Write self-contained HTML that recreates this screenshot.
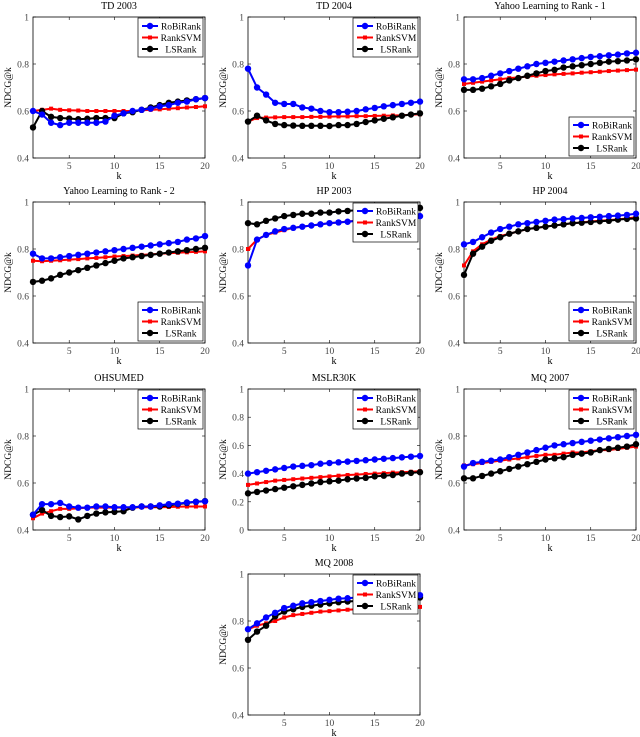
<!DOCTYPE html>
<html><head><meta charset="utf-8"><style>
body{margin:0;background:#fff;}
svg{display:block;font-family:"Liberation Serif",serif;}
</style></head><body>
<svg id="chart" width="640" height="737" viewBox="0 0 640 737"></svg>
<script>
const kValues=[1,2,3,4,5,6,7,8,9,10,11,12,13,14,15,16,17,18,19,20];
const seriesNames=["RoBiRank","RankSVM","LSRank"];
const panelTitles=["TD 2003","TD 2004","Yahoo Learning to Rank - 1","Yahoo Learning to Rank - 2","HP 2003","HP 2004","OHSUMED","MSLR30K","MQ 2007","MQ 2008"];
const td2003Robi=[.60,.585,.55,.54,.55,.55,.55,.55,.555,.58,.59,.60,.605,.61,.62,.625,.635,.64,.65,.655];
const td2003Svm=[.60,.605,.61,.605,.603,.602,.60,.60,.60,.60,.60,.60,.603,.605,.607,.61,.612,.615,.617,.62];
const td2003Ls=[.53,.60,.575,.57,.568,.565,.567,.57,.57,.57,.59,.595,.605,.615,.625,.635,.64,.645,.65,.655];
const td2004Robi=[.78,.70,.67,.635,.63,.63,.615,.61,.60,.595,.595,.597,.60,.607,.613,.62,.625,.63,.635,.64];
const td2004Svm=[.555,.57,.572,.573,.574,.574,.574,.575,.575,.576,.577,.577,.578,.578,.579,.58,.581,.582,.584,.586];
const td2004Ls=[.555,.58,.56,.545,.54,.538,.537,.537,.537,.536,.54,.54,.545,.553,.56,.567,.573,.58,.585,.59];
const yahoo1Robi=[.735,.735,.74,.75,.76,.77,.78,.79,.80,.805,.81,.815,.82,.825,.83,.833,.837,.84,.845,.848];
const yahoo1Svm=[.715,.72,.725,.73,.735,.74,.743,.746,.75,.753,.756,.758,.76,.763,.765,.767,.77,.772,.774,.776];
const yahoo1Ls=[.69,.69,.695,.705,.715,.73,.74,.75,.76,.77,.775,.785,.79,.795,.80,.805,.81,.812,.815,.82];
const yahoo2Robi=[.78,.76,.76,.765,.77,.775,.78,.785,.79,.795,.80,.805,.81,.815,.82,.825,.83,.84,.845,.855];
const yahoo2Svm=[.75,.748,.75,.752,.755,.757,.76,.762,.765,.768,.77,.772,.775,.777,.78,.782,.784,.786,.788,.79];
const yahoo2Ls=[.66,.665,.675,.69,.70,.71,.72,.73,.74,.75,.76,.765,.77,.775,.78,.785,.79,.795,.80,.805];
const hp2003Robi=[.73,.84,.86,.875,.885,.89,.895,.90,.905,.91,.913,.916,.92,.922,.925,.928,.93,.933,.935,.94];
const hp2003Svm=[.80,.84,.86,.87,.88,.89,.895,.90,.905,.91,.913,.917,.92,.923,.926,.93,.932,.935,.937,.94];
const hp2003Ls=[.91,.905,.92,.93,.94,.945,.95,.95,.955,.955,.96,.962,.965,.965,.967,.97,.97,.972,.973,.975];
const hp2004Robi=[.82,.83,.85,.87,.885,.895,.905,.91,.915,.92,.925,.927,.93,.932,.935,.937,.94,.942,.945,.95];
const hp2004Svm=[.73,.79,.82,.84,.855,.865,.875,.885,.89,.895,.90,.905,.91,.913,.917,.92,.923,.926,.93,.935];
const hp2004Ls=[.69,.78,.81,.835,.85,.865,.875,.885,.89,.895,.90,.905,.91,.912,.915,.918,.92,.925,.928,.93];
const ohsumedRobi=[.465,.51,.51,.515,.50,.495,.495,.50,.50,.497,.497,.497,.50,.50,.505,.51,.512,.517,.52,.522];
const ohsumedSvm=[.45,.47,.48,.49,.49,.492,.495,.495,.495,.495,.495,.495,.497,.497,.497,.498,.499,.50,.50,.50];
const ohsumedLs=[.465,.485,.46,.455,.458,.445,.46,.47,.475,.477,.48,.495,.50,.50,.50,.505,.51,.515,.52,.523];
const mslrRobi=[.40,.41,.42,.43,.44,.45,.455,.46,.47,.475,.48,.485,.49,.495,.50,.505,.51,.515,.52,.525];
const mslrSvm=[.32,.33,.34,.35,.355,.36,.365,.37,.375,.38,.385,.39,.393,.397,.40,.403,.407,.41,.413,.417];
const mslrLs=[.26,.27,.28,.29,.30,.31,.32,.33,.34,.345,.35,.36,.365,.37,.38,.385,.39,.40,.405,.41];
const mq2007Robi=[.67,.685,.69,.695,.70,.71,.72,.73,.74,.75,.76,.765,.77,.775,.78,.785,.79,.795,.80,.805];
const mq2007Svm=[.675,.68,.685,.69,.695,.70,.705,.71,.715,.72,.72,.725,.73,.73,.735,.74,.74,.745,.75,.755];
const mq2007Ls=[.62,.62,.63,.64,.65,.66,.67,.68,.69,.70,.705,.71,.72,.725,.73,.74,.745,.75,.755,.765];
const mq2008Robi=[.765,.79,.815,.835,.855,.865,.875,.88,.885,.89,.895,.897,.90,.90,.90,.902,.905,.905,.907,.91];
const mq2008Svm=[.765,.78,.79,.80,.815,.825,.83,.835,.84,.842,.845,.848,.85,.852,.853,.855,.856,.857,.858,.86];
const mq2008Ls=[.72,.755,.78,.82,.84,.85,.86,.865,.87,.875,.88,.883,.885,.887,.888,.89,.892,.894,.895,.90];
const panelSeries=[[td2003Robi,td2003Svm,td2003Ls],[td2004Robi,td2004Svm,td2004Ls],[yahoo1Robi,yahoo1Svm,yahoo1Ls],[yahoo2Robi,yahoo2Svm,yahoo2Ls],[hp2003Robi,hp2003Svm,hp2003Ls],[hp2004Robi,hp2004Svm,hp2004Ls],[ohsumedRobi,ohsumedSvm,ohsumedLs],[mslrRobi,mslrSvm,mslrLs],[mq2007Robi,mq2007Svm,mq2007Ls],[mq2008Robi,mq2008Svm,mq2008Ls]];
const xTickLabels=[5,10,15,20];
const yTickDefault=[0.4,0.6,0.8,1];
const yTickMslr=[0,0.2,0.4,0.6,0.8,1];

const NS="http://www.w3.org/2000/svg";
const svg=document.getElementById("chart");
const colors=["#0000ff","#ff0000","#000000"];
const colX=[33,248,464], rowY=[17,202,389,574], W=172, H=141;
const layout=[[0,0],[1,0],[2,0],[0,1],[1,1],[2,1],[0,2],[1,2],[2,2],[1,3]];
const legendBottom=[false,false,true,true,false,true,false,false,false,false];
function mk(tag,attrs,parent){const e=document.createElementNS(NS,tag);for(const k in attrs)e.setAttribute(k,attrs[k]);(parent||svg).appendChild(e);return e;}
function fmt(v){return v===1?"1":v===0?"0":String(v);}
function marker(g,kind,x,y,c){
  if(kind===1){const r=mk("rect",{x:x-2,y:y-2,width:4,height:4,fill:c},g);}
  else{const r=mk("circle",{cx:x,cy:y,r:3.2,fill:c},g);}
}
panelTitles.forEach((title,p)=>{
  const L=colX[layout[p][0]], T=rowY[layout[p][1]];
  const yMin=p===7?0:0.4, yMax=1;
  const yTicks=p===7?yTickMslr:yTickDefault;
  const xs=k=>L+(k-1)/19*W;
  const ys=v=>T+H-(v-yMin)/(yMax-yMin)*H;
  const g=mk("g",{});
  
  
  const t=mk("text",{x:L+W/2,y:T-8,"text-anchor":"middle","font-size":"10"},g);t.textContent=title;
  
  const box=mk("rect",{x:L,y:T,width:W,height:H,fill:"#fff",stroke:"#000","stroke-width":"0.8"},g);
  
  xTickLabels.forEach(k=>{const x=xs(k);
    mk("line",{x1:x,x2:x,y1:T+H,y2:T+H-3,stroke:"#000","stroke-width":"0.6"},g);
    mk("line",{x1:x,x2:x,y1:T,y2:T+3,stroke:"#000","stroke-width":"0.6"},g);
    const tl=mk("text",{x:x,y:T+H+11,"text-anchor":"middle","font-size":"9.5",fill:"#444"},g);tl.textContent=k;
    });
  yTicks.forEach(v=>{const y=ys(v);
    mk("line",{x1:L,x2:L+3,y1:y,y2:y,stroke:"#000","stroke-width":"0.6"},g);
    mk("line",{x1:L+W,x2:L+W-3,y1:y,y2:y,stroke:"#000","stroke-width":"0.6"},g);
    const tl=mk("text",{x:L-4,y:y+3.5,"text-anchor":"end","font-size":"9.5",fill:"#444"},g);tl.textContent=fmt(v);
    });
  const xl=mk("text",{x:L+W/2,y:T+H+21,"text-anchor":"middle","font-size":"10"},g);xl.textContent="k";
  
  const yl=mk("text",{x:0,y:0,"text-anchor":"middle","font-size":"9.5",transform:`translate(${L-22},${T+H/2}) rotate(-90)`},g);yl.textContent="NDCG@k";
  
  [1,2,0].forEach(s=>{
    const data=panelSeries[p][s];
    const pts=data.map((v,i)=>xs(kValues[i])+","+ys(v)).join(" ");
    const pl=mk("polyline",{points:pts,fill:"none",stroke:colors[s],"stroke-width":"2","stroke-linejoin":"round"},g);
    
    data.forEach((v,i)=>marker(g,s,xs(kValues[i]),ys(v),colors[s]));
  });
  const lx=L+W-67, ly=legendBottom[p]?T+H-41:T+1;
  const lg=mk("g",{},g);
  mk("rect",{x:lx,y:ly,width:65,height:39,fill:"#fff",stroke:"#000","stroke-width":"0.7"},lg);
  seriesNames.forEach((n,s)=>{const yy=ly+8+s*11.5;
    const e=mk("g",{},lg);
    mk("line",{x1:lx+4,x2:lx+20,y1:yy,y2:yy,stroke:colors[s],"stroke-width":"2"},e);
    marker(e,s,lx+12,yy,colors[s]);
    const tx=mk("text",{x:lx+43,y:yy+3.5,"text-anchor":"middle","font-size":"9.5"},e);tx.textContent=n;});
});
</script>
</body></html>
